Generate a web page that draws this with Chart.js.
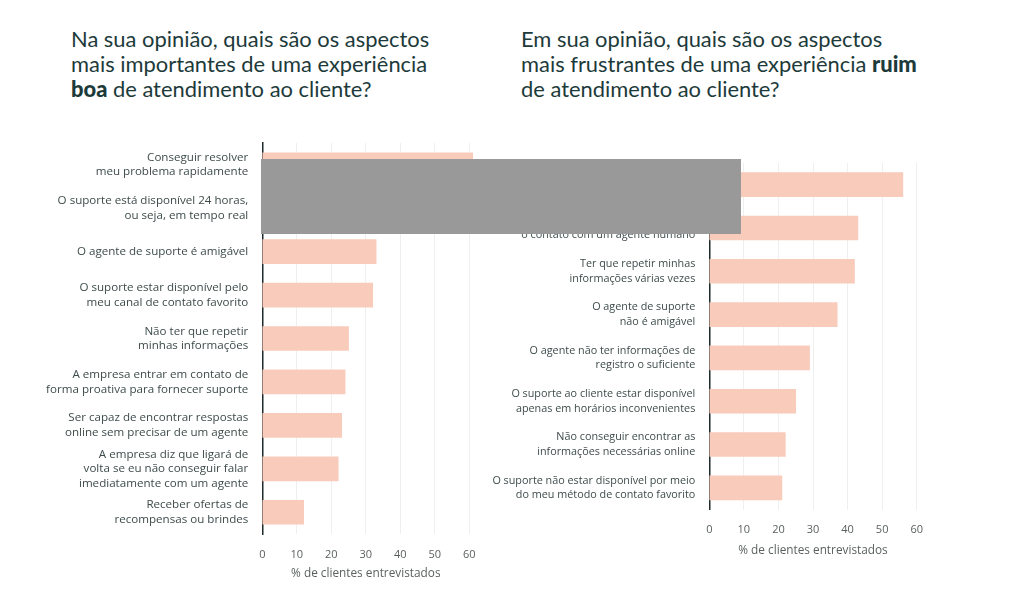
<!DOCTYPE html>
<html>
<head>
<meta charset="utf-8">
<script src="https://cdn.jsdelivr.net/npm/chart.js@4"></script>
<style>
  body { margin: 0; width: 1009px; height: 593px; background: #fff; position: relative; overflow: hidden; }
  .title { position: absolute; top: 26px; font-family: Lato, sans-serif; font-size: 21.9px; line-height: 25px; color: #1d3a3a; white-space: nowrap; }
  .title b { font-weight: 900; }
  .box { position: absolute; }
  #mask { position: absolute; left: 261px; top: 159px; width: 480px; height: 75px; background: #999999; }
</style>
</head>
<body>
<div class="title" style="left:71px">Na sua opinião, quais são os aspectos<br>mais importantes de uma experiência<br><b>boa</b> de atendimento ao cliente?</div>
<div class="title" style="left:521px">Em sua opinião, quais são os aspectos<br>mais frustrantes de uma experiência <b>ruim</b><br>de atendimento ao cliente?</div>

<div class="box" style="left:0;top:130px;width:500px;height:463px"><canvas id="goodChart"></canvas></div>
<div class="box" style="left:480px;top:130px;width:529px;height:463px"><canvas id="badChart"></canvas></div>
<div id="mask"></div>

<script>
// Data
const goodLabels = [
  ['Conseguir resolver', 'meu problema rapidamente'],
  ['O suporte está disponível 24 horas,', 'ou seja, em tempo real'],
  'O agente de suporte é amigável',
  ['O suporte estar disponível pelo', 'meu canal de contato favorito'],
  ['Não ter que repetir', 'minhas informações'],
  ['A empresa entrar em contato de', 'forma proativa para fornecer suporte'],
  ['Ser capaz de encontrar respostas', 'online sem precisar de um agente'],
  ['A empresa diz que ligará de', 'volta se eu não conseguir falar', 'imediatamente com um agente'],
  ['Receber ofertas de', 'recompensas ou brindes']
];
const goodValues = [61, 51, 33, 32, 25, 24, 23, 22, 12];

const badLabels = [
  ['Ter que esperar muito tempo', 'para ser atendido'],
  ['Não conseguir fazer', 'o contato com um agente humano'],
  ['Ter que repetir minhas', 'informações várias vezes'],
  ['O agente de suporte', 'não é amigável'],
  ['O agente não ter informações de', 'registro o suficiente'],
  ['O suporte ao cliente estar disponível', 'apenas em horários inconvenientes'],
  ['Não conseguir encontrar as', 'informações necessárias online'],
  ['O suporte não estar disponível por meio', 'do meu método de contato favorito']
];
const badValues = [56, 43, 42, 37, 29, 25, 22, 21];

const tickValues = [0, 10, 20, 30, 40, 50, 60];
const axisTitle = '% de clientes entrevistados';

const barColor = '#f8cbbb';
const labelColor = '#3e4b4b';
const tickColor = '#5a5f5f';

Chart.defaults.font.family = "'Open Sans', sans-serif";
Chart.defaults.animation = false;

function makeChart(id, labels, values, yWidth, xHeight, padding, labelSize, labelLine) {
  return new Chart(document.getElementById(id), {
    type: 'bar',
    data: {
      labels: labels,
      datasets: [{
        data: values,
        backgroundColor: barColor,
        barThickness: 24,
        clip: false
      }]
    },
    options: {
      indexAxis: 'y',
      responsive: true,
      maintainAspectRatio: false,
      layout: { padding: padding },
      plugins: { legend: { display: false }, tooltip: { enabled: false } },
      scales: {
        x: {
          min: 0,
          max: 60,
          afterFit: s => {
            s.height = xHeight;
            s.paddingLeft = 0;
            s.paddingRight = 0;
          },
          afterBuildTicks: s => { s.ticks = tickValues.map(v => ({ value: v })); },
          grid: {
            color: ctx => ctx.tick && ctx.tick.value === 0 ? 'rgba(0,0,0,0)' : '#efefef',
            drawTicks: false
          },
          border: { display: false },
          ticks: { color: tickColor, font: { size: 11 }, padding: 14 },
          title: { display: true, text: axisTitle, color: tickColor, font: { size: 11.8 } }
        },
        y: {
          afterFit: s => {
            s.width = yWidth;
            s.paddingTop = 0;
            s.paddingBottom = 0;
          },
          grid: { display: false, drawTicks: false },
          border: { display: true, color: '#1f2b2b', width: 1.5 },
          ticks: { color: labelColor, autoSkip: false, font: { size: labelSize, lineHeight: labelLine }, padding: 14 }
        }
      }
    }
  });
}

makeChart('goodChart', goodLabels, goodValues, 262.3, 51, { top: 13, right: 30.7, bottom: 8, left: 0 }, 11.6, 1.25);
makeChart('badChart', badLabels, badValues, 229.3, 52, { top: 33, right: 92.3, bottom: 31.5, left: 0 }, 10.8, 1.36);
</script>
</body>
</html>
